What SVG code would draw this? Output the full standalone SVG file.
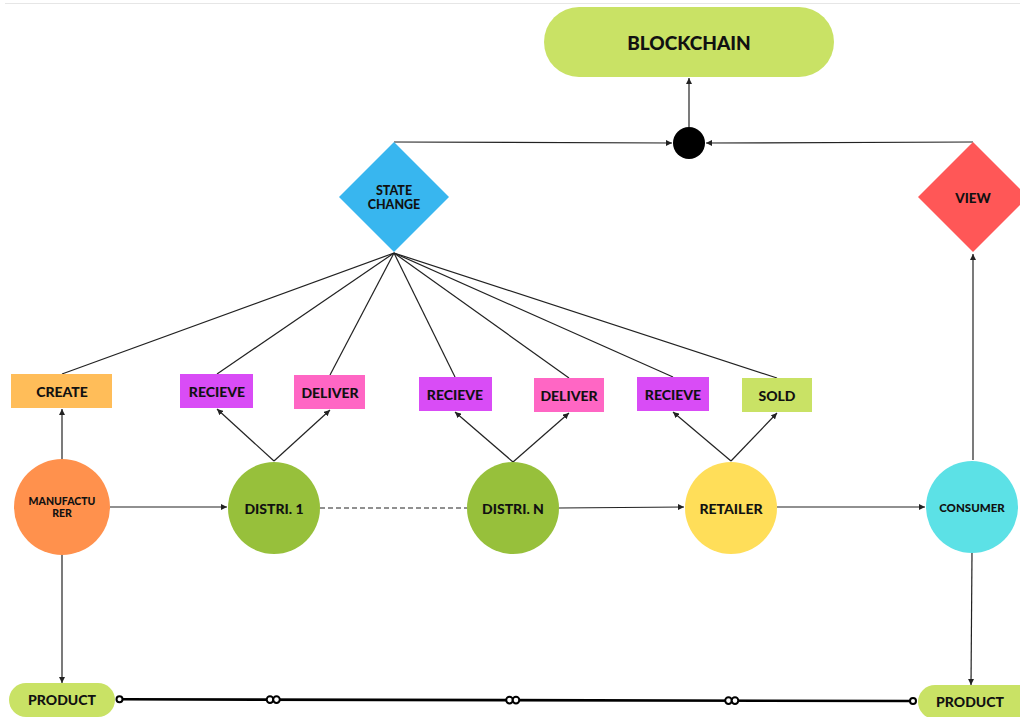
<svg xmlns="http://www.w3.org/2000/svg" width="1020" height="717" viewBox="0 0 1020 717">
  <defs>
    <marker id="arr" viewBox="0 0 6 6" refX="6" refY="3" markerWidth="6" markerHeight="6" markerUnits="userSpaceOnUse" orient="auto">
      <path d="M0,0 L6,3 L0,6 Z" fill="#222"/>
    </marker>
  </defs>
  <style>
    text { font-family: "Lato", "Open Sans", "Liberation Sans", sans-serif; font-weight: 900; fill: #111; text-anchor: middle; dominant-baseline: central; }
    .ln { stroke: #222; stroke-width: 1.2; fill: none; }
    .lbl { font-size: 14px; }
    .sm { font-size: 11.5px; }
    .ring { fill: #fff; stroke: #000; stroke-width: 2; }
  </style>

  <rect width="1020" height="717" fill="#fff"/>
  <line x1="5" y1="3.5" x2="1020" y2="3.5" stroke="#e6e6e6" stroke-width="1"/>

  <!-- connectors -->
  <g id="connectors">
    <line class="ln" x1="689" y1="127" x2="689" y2="78" marker-end="url(#arr)"/>
    <line class="ln" x1="394" y1="142" x2="672" y2="143" marker-end="url(#arr)"/>
    <line class="ln" x1="973" y1="142" x2="706" y2="143" marker-end="url(#arr)"/>
    <line class="ln" x1="973" y1="460" x2="973" y2="254" marker-end="url(#arr)"/>

    <!-- fan from state change -->
    <line class="ln" x1="394" y1="253" x2="62" y2="374"/>
    <line class="ln" x1="394" y1="253" x2="217" y2="374"/>
    <line class="ln" x1="394" y1="253" x2="330" y2="375"/>
    <line class="ln" x1="394" y1="253" x2="455" y2="377"/>
    <line class="ln" x1="394" y1="253" x2="569" y2="378"/>
    <line class="ln" x1="394" y1="253" x2="673" y2="377"/>
    <line class="ln" x1="394" y1="253" x2="777" y2="378"/>

    <!-- actors to actions -->
    <line class="ln" x1="62" y1="459" x2="62" y2="409" marker-end="url(#arr)"/>
    <line class="ln" x1="274" y1="461" x2="217" y2="409" marker-end="url(#arr)"/>
    <line class="ln" x1="274" y1="461" x2="330" y2="410" marker-end="url(#arr)"/>
    <line class="ln" x1="513" y1="462" x2="455" y2="412" marker-end="url(#arr)"/>
    <line class="ln" x1="513" y1="462" x2="569" y2="413" marker-end="url(#arr)"/>
    <line class="ln" x1="731" y1="461" x2="673" y2="412" marker-end="url(#arr)"/>
    <line class="ln" x1="731" y1="461" x2="777" y2="413" marker-end="url(#arr)"/>

    <!-- supply flow -->
    <line class="ln" x1="110" y1="507" x2="227" y2="507" marker-end="url(#arr)"/>
    <line class="ln" x1="320" y1="508" x2="467" y2="508" stroke-dasharray="5,3"/>
    <line class="ln" x1="559" y1="508" x2="684" y2="507" marker-end="url(#arr)"/>
    <line class="ln" x1="777" y1="507" x2="925" y2="507" marker-end="url(#arr)"/>

    <line class="ln" x1="62" y1="555" x2="62" y2="683" marker-end="url(#arr)"/>
    <line class="ln" x1="972" y1="553" x2="971" y2="685" marker-end="url(#arr)"/>

    <!-- product link -->
    <line x1="122" y1="699.3" x2="910" y2="701" stroke="#000" stroke-width="2.6"/>
    <circle class="ring" cx="119.5" cy="699.3" r="3"/>
    <circle class="ring" cx="270" cy="699.6" r="3.3"/>
    <circle class="ring" cx="276.5" cy="699.6" r="3.3"/>
    <circle class="ring" cx="509.5" cy="700.1" r="3.3"/>
    <circle class="ring" cx="516" cy="700.1" r="3.3"/>
    <circle class="ring" cx="728.5" cy="700.6" r="3.3"/>
    <circle class="ring" cx="735" cy="700.6" r="3.3"/>
    <circle class="ring" cx="913" cy="701" r="3"/>
  </g>

  <!-- nodes -->
  <g id="blockchain">
    <rect x="544" y="7" width="290" height="70" rx="35" fill="#c9e265"/>
    <text x="689" y="42" style="font-size:19px">BLOCKCHAIN</text>
  </g>
  <g id="hub">
    <circle cx="689" cy="143" r="16" fill="#000"/>
  </g>
  <g id="state-change">
    <polygon points="394,142 449,197 394,252 339,197" fill="#38b6ef"/>
    <text x="394" y="190" style="font-size:12.5px">STATE</text>
    <text x="394" y="204.5" style="font-size:12.5px">CHANGE</text>
  </g>
  <g id="view">
    <polygon points="973,142 1028,197 973,252 918,197" fill="#ff5757"/>
    <text x="973" y="198" style="font-size:13.5px">VIEW</text>
  </g>

  <g id="create">
    <rect x="11" y="374" width="101" height="34" fill="#ffbd59"/>
    <text class="lbl" x="62" y="391">CREATE</text>
  </g>
  <g id="recieve-1">
    <rect x="180" y="374" width="73" height="34" fill="#d94cf6"/>
    <text class="lbl" x="217" y="391">RECIEVE</text>
  </g>
  <g id="deliver-1">
    <rect x="294" y="375" width="71" height="34" fill="#ff66c4"/>
    <text class="lbl" x="330" y="392">DELIVER</text>
  </g>
  <g id="recieve-2">
    <rect x="419" y="377" width="73" height="34" fill="#d94cf6"/>
    <text class="lbl" x="455" y="394">RECIEVE</text>
  </g>
  <g id="deliver-2">
    <rect x="534" y="378" width="70" height="34" fill="#ff66c4"/>
    <text class="lbl" x="569" y="395">DELIVER</text>
  </g>
  <g id="recieve-3">
    <rect x="637" y="377" width="72" height="34" fill="#d94cf6"/>
    <text class="lbl" x="673" y="394">RECIEVE</text>
  </g>
  <g id="sold">
    <rect x="742" y="378" width="70" height="34" fill="#c9e265"/>
    <text class="lbl" x="777" y="395">SOLD</text>
  </g>

  <g id="manufacturer">
    <circle cx="62" cy="507" r="48" fill="#ff914d"/>
    <text x="62" y="501" style="font-size:10.5px">MANUFACTU</text>
    <text x="62" y="513" style="font-size:10.5px">RER</text>
  </g>
  <g id="distri-1">
    <circle cx="274" cy="508" r="46" fill="#97c03b"/>
    <text class="lbl" x="274" y="508">DISTRI. 1</text>
  </g>
  <g id="distri-n">
    <circle cx="513" cy="508" r="46" fill="#97c03b"/>
    <text class="lbl" x="513" y="508">DISTRI. N</text>
  </g>
  <g id="retailer">
    <circle cx="731" cy="508" r="46" fill="#ffde59"/>
    <text class="lbl" x="731" y="508">RETAILER</text>
  </g>
  <g id="consumer">
    <circle cx="972" cy="507" r="46" fill="#5ce1e6"/>
    <text class="sm" x="972" y="507">CONSUMER</text>
  </g>

  <g id="product-1">
    <rect x="9" y="683" width="106" height="34" rx="17" fill="#c9e265"/>
    <text class="lbl" x="62" y="699">PRODUCT</text>
  </g>
  <g id="product-2">
    <rect x="918" y="685" width="120" height="34" rx="17" fill="#c9e265"/>
    <text class="lbl" x="970" y="701">PRODUCT</text>
  </g>
</svg>
